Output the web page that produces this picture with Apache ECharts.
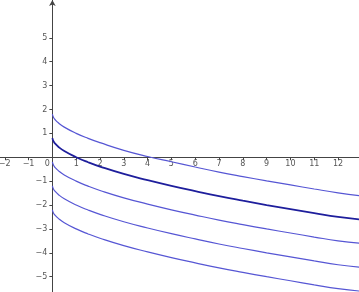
<!DOCTYPE html>
<html>
<head>
<meta charset="utf-8">
<script src="https://cdn.jsdelivr.net/npm/echarts@6/dist/echarts.min.js"></script>
<style>html,body{margin:0;padding:0;background:#fff}#c{width:359px;height:292px}</style>
</head>
<body>
<div id="c"></div>
<script>
var xs = [0, 0.05, 0.1, 0.25, 0.5, 1, 1.5, 2, 3, 4, 5, 6, 7, 8, 9, 10, 11, 12, 12.9];
var curveA = [1.8, 1.66, 1.59, 1.44, 1.26, 1.0, 0.79, 0.61, 0.29, 0.03, -0.19, -0.41, -0.62, -0.81, -0.99, -1.16, -1.33, -1.49, -1.61];
var curveB = [0.8, 0.66, 0.59, 0.44, 0.26, 0.0, -0.21, -0.39, -0.7, -0.96, -1.2, -1.42, -1.63, -1.82, -2.0, -2.17, -2.34, -2.5, -2.6];
var curveC = [-0.2, -0.34, -0.41, -0.56, -0.74, -1.0, -1.21, -1.39, -1.7, -1.96, -2.2, -2.42, -2.63, -2.82, -3.0, -3.17, -3.34, -3.5, -3.6];
var curveD = [-1.2, -1.34, -1.41, -1.56, -1.74, -2.0, -2.21, -2.39, -2.7, -2.96, -3.2, -3.42, -3.63, -3.82, -4.0, -4.17, -4.34, -4.5, -4.6];
var curveE = [-2.2, -2.34, -2.41, -2.56, -2.74, -3.0, -3.21, -3.39, -3.7, -3.96, -4.2, -4.42, -4.63, -4.82, -5.0, -5.17, -5.34, -5.5, -5.6];
var xTicks = [-2, -1, 0, 1, 2, 3, 4, 5, 6, 7, 8, 9, 10, 11, 12];
var yTicks = [-5, -4, -3, -2, -1, 1, 2, 3, 4, 5];

function pairs(ys){ return xs.map(function(x,i){ return [x, ys[i]]; }); }
function ser(ys, color, w){
  return {type:'line', data:pairs(ys), smooth:true, showSymbol:false, silent:true,
    lineStyle:{color:color, width:w}, z:3};
}
function fmt(v){ return v === 0 ? '{z|0}' : (v<0 ? '\u2212'+(-v) : String(v)); }
var lab = {color:'#555', fontSize:8, fontFamily:'DejaVu Sans'};
var chart = echarts.init(document.getElementById('c'));
chart.setOption({
  animation:false,
  grid:{left:0, right:0, top:0, bottom:0, outerBoundsMode:'none'},
  xAxis:{type:'value', min:-2.2, max:12.88, position:'bottom', offset:0,
    axisLine:{onZero:false, lineStyle:{color:'#444', width:1}},
    axisTick:{show:true, length:3, customValues:xTicks, lineStyle:{color:'#444'}},
    axisLabel:{show:true, customValues:xTicks, margin:3, formatter:fmt, color:lab.color, fontSize:lab.fontSize, fontFamily:lab.fontFamily,
      rich:{z:{color:lab.color, fontSize:lab.fontSize, fontFamily:lab.fontFamily, padding:[0,10,0,0]}}},
    splitLine:{show:false}},
  yAxis:{type:'value', min:-5.64, max:6.58, position:'left', offset:0,
    axisLine:{onZero:false, symbol:['none','arrow'], symbolSize:[5,6], lineStyle:{color:'#444', width:1}},
    axisTick:{show:true, length:3, customValues:yTicks, lineStyle:{color:'#444'}},
    axisLabel:{show:true, customValues:yTicks, margin:5, formatter:fmt, color:lab.color, fontSize:lab.fontSize, fontFamily:lab.fontFamily},
    splitLine:{show:false}},
  series:[
    ser(curveA, '#5656d4', 1.2),
    ser(curveB, '#1e1e9c', 1.8),
    ser(curveC, '#5656d4', 1.2),
    ser(curveD, '#5656d4', 1.2),
    ser(curveE, '#5656d4', 1.2)
  ]
});
// move axes to the zero lines using the library's own scales
var origin = chart.convertToPixel({gridIndex:0}, [0, 0]);
var H = chart.getHeight();
chart.setOption({
  xAxis:{offset: -(H - origin[1])},
  yAxis:{offset: -origin[0]}
});
</script>
</body>
</html>
